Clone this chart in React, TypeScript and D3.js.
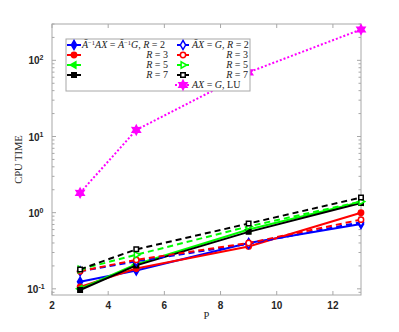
import React from "react";
import * as d3 from "d3";

// P values and CPU times
const P = [3, 5, 9, 13];
const invR2 = [0.124, 0.174, 0.4, 0.71];
const invR3 = [0.106, 0.185, 0.36, 1.0];
const invR5 = [0.1, 0.21, 0.6, 1.38];
const invR7 = [0.0966, 0.203, 0.56, 1.34];
const dirR2 = [0.17, 0.23, 0.39, 0.75];
const dirR3 = [0.17, 0.24, 0.4, 0.81];
const dirR5 = [0.18, 0.28, 0.66, 1.4];
const dirR7 = [0.18, 0.33, 0.72, 1.58];
const luTimes = [1.82, 12.2, 69.7, 254];

const xTicks = [2, 4, 6, 8, 10, 12];
const yExponents = [-1, 0, 1, 2];

const W = 399;
const H = 332;
const margin = { left: 52, right: 38, top: 24, bottom: 37 };
const frameColor = "#a8a8a8";

const x = d3.scaleLinear().domain([2, 13]).range([margin.left, W - margin.right]);
const y = d3.scaleLog().domain([0.083, 300]).range([H - margin.bottom, margin.top]);

const hexagram = {
  draw(context, size) {
    const r = Math.sqrt(size) * 0.75;
    const ri = r * 0.55;
    for (let i = 0; i < 12; i++) {
      const a = (Math.PI / 6) * i - Math.PI / 2;
      const rr = i % 2 === 0 ? r : ri;
      const px = rr * Math.cos(a);
      const py = rr * Math.sin(a);
      if (i === 0) context.moveTo(px, py);
      else context.lineTo(px, py);
    }
    context.closePath();
  },
};

const symbolTypes = {
  diamond: d3.symbolDiamond,
  circle: d3.symbolCircle,
  square: d3.symbolSquare,
  triLeft: d3.symbolTriangle,
  triRight: d3.symbolTriangle,
  hexagram: hexagram,
};

const series = [
  { values: invR2, color: "#0000ff", marker: "diamond", dash: null, open: false },
  { values: invR3, color: "#ff0000", marker: "circle", dash: null, open: false },
  { values: invR5, color: "#00ff00", marker: "triLeft", dash: null, open: false },
  { values: invR7, color: "#000000", marker: "square", dash: null, open: false },
  { values: dirR2, color: "#0000ff", marker: "diamond", dash: "6,4", open: true },
  { values: dirR3, color: "#ff0000", marker: "circle", dash: "6,4", open: true },
  { values: dirR5, color: "#00ff00", marker: "triRight", dash: "6,4", open: true },
  { values: dirR7, color: "#000000", marker: "square", dash: "6,4", open: true },
  { values: luTimes, color: "#ff00ff", marker: "hexagram", dash: "2,2", open: false },
];

function Marker({ type, cx, cy, color, open }) {
  const sizes = { diamond: 24, circle: 22, square: 20, triLeft: 18, triRight: 18, hexagram: 38 };
  const path = d3.symbol().type(symbolTypes[type]).size(sizes[type])();
  let rot = 0;
  if (type === "triLeft") rot = -90;
  if (type === "triRight") rot = 90;
  return (
    <path
      d={path}
      transform={`translate(${cx},${cy}) rotate(${rot})`}
      fill={open ? "#ffffff" : color}
      stroke={color}
      strokeWidth={1.5}
    />
  );
}

const line = d3
  .line()
  .x((d) => x(d[0]))
  .y((d) => y(d[1]));

function Sup({ children }) {
  return (
    <tspan fontSize={6.5} dy={-3.5} fontStyle="normal">
      {children}
    </tspan>
  );
}

function LegendEntry({ s, x0, x1, yy, children, anchor, tx }) {
  const mx = (x0 + x1) / 2;
  return (
    <g>
      <line x1={x0} x2={x1} y1={yy} y2={yy} stroke={s.color} strokeWidth={2} strokeDasharray={s.dash === "2,2" ? "2,2" : null} />
      <Marker type={s.marker} cx={mx} cy={yy} color={s.color} open={s.open} />
      <text x={tx} y={yy + 3} textAnchor={anchor} fontFamily="'Liberation Serif', serif" fontSize={10} fill="#222">
        {children}
      </text>
    </g>
  );
}

export default function App() {
  const minor = [];
  for (let e = -2; e <= 2; e++) {
    for (let k = 2; k <= 9; k++) {
      const v = k * Math.pow(10, e);
      if (v >= 0.083 && v <= 300) minor.push(v);
    }
  }
  const x0 = margin.left;
  const x1 = W - margin.right;
  const y0 = margin.top;
  const y1 = H - margin.bottom;
  const rows = [45, 55, 65, 75, 85];
  const it = (t) => <tspan fontStyle="italic">{t}</tspan>;

  return (
    <svg width={W} height={H} style={{ position: "absolute", left: 0, top: 0, background: "#fff" }}>
      {/* ticks */}
      {xTicks.map((t) => (
        <g key={"xt" + t}>
          <line x1={x(t)} x2={x(t)} y1={y1} y2={y1 - 4} stroke={frameColor} />
          <line x1={x(t)} x2={x(t)} y1={y0} y2={y0 + 4} stroke={frameColor} />
          <text x={x(t)} y={309} textAnchor="middle" fontFamily="'Liberation Sans', Arial, sans-serif" fontWeight="bold" fontSize={10} fill="#262626">
            {t}
          </text>
        </g>
      ))}
      {yExponents.map((e) => {
        const yy = y(Math.pow(10, e));
        return (
          <g key={"yt" + e}>
            <line x1={x0} x2={x0 + 4} y1={yy} y2={yy} stroke={frameColor} />
            <line x1={x1} x2={x1 - 4} y1={yy} y2={yy} stroke={frameColor} />
            <text x={36} y={yy + 4} textAnchor="middle" fontFamily="'Liberation Sans', Arial, sans-serif" fontWeight="bold" fontSize={10} fill="#262626">
              10
              <tspan fontSize={7} dy={-4}>{e}</tspan>
            </text>
          </g>
        );
      })}
      {minor.map((v, i) => (
        <g key={"m" + i}>
          <line x1={x0} x2={x0 + 2.5} y1={y(v)} y2={y(v)} stroke={frameColor} />
          <line x1={x1} x2={x1 - 2.5} y1={y(v)} y2={y(v)} stroke={frameColor} />
        </g>
      ))}
      <rect x={x0} y={y0} width={x1 - x0} height={y1 - y0} fill="none" stroke={frameColor} />

      {/* series */}
      {series.map((s, i) => {
        const pts = P.map((p, j) => [p, s.values[j]]);
        return (
          <g key={"s" + i}>
            <path d={line(pts)} fill="none" stroke={s.color} strokeWidth={2} strokeDasharray={s.dash} />
            {pts.map((d, j) => (
              <Marker key={j} type={s.marker} cx={x(d[0])} cy={y(d[1])} color={s.color} open={s.open} />
            ))}
          </g>
        );
      })}

      {/* axis labels */}
      <text transform={`translate(22,${(y0 + y1) / 2}) rotate(-90)`} textAnchor="middle" fontFamily="'Liberation Serif', serif" fontSize={10.5} fill="#262626">
        CPU TIME
      </text>
      <text x={(x0 + x1) / 2} y={319} textAnchor="middle" fontFamily="'Liberation Serif', serif" fontSize={10.5} fill="#262626">
        P
      </text>

      {/* legend */}
      <rect x={66} y={39} width={184} height={52} fill="#fff" stroke={frameColor} />
      <LegendEntry s={series[0]} x0={67} x1={81} yy={rows[0]} tx={82} anchor="start">
        {it("Ā")}<Sup>−1</Sup><tspan dy={3.5} fontStyle="italic">AX</tspan> = {it("Ā")}<Sup>−1</Sup><tspan dy={3.5} fontStyle="italic">G</tspan>, {it("R")} = 2
      </LegendEntry>
      <LegendEntry s={series[1]} x0={67} x1={81} yy={rows[1]} tx={168} anchor="end">
        {it("R")} = 3
      </LegendEntry>
      <LegendEntry s={series[2]} x0={67} x1={81} yy={rows[2]} tx={168} anchor="end">
        {it("R")} = 5
      </LegendEntry>
      <LegendEntry s={series[3]} x0={67} x1={81} yy={rows[3]} tx={168} anchor="end">
        {it("R")} = 7
      </LegendEntry>
      <LegendEntry s={series[4]} x0={177} x1={189} yy={rows[0]} tx={192} anchor="start">
        {it("ĀX")} = {it("G")}, {it("R")} = 2
      </LegendEntry>
      <LegendEntry s={series[5]} x0={177} x1={189} yy={rows[1]} tx={248} anchor="end">
        {it("R")} = 3
      </LegendEntry>
      <LegendEntry s={series[6]} x0={177} x1={189} yy={rows[2]} tx={248} anchor="end">
        {it("R")} = 5
      </LegendEntry>
      <LegendEntry s={series[7]} x0={177} x1={189} yy={rows[3]} tx={248} anchor="end">
        {it("R")} = 7
      </LegendEntry>
      <LegendEntry s={series[8]} x0={175} x1={191} yy={rows[4]} tx={192} anchor="start">
        {it("AX")} = {it("G")}, LU
      </LegendEntry>
    </svg>
  );
}
